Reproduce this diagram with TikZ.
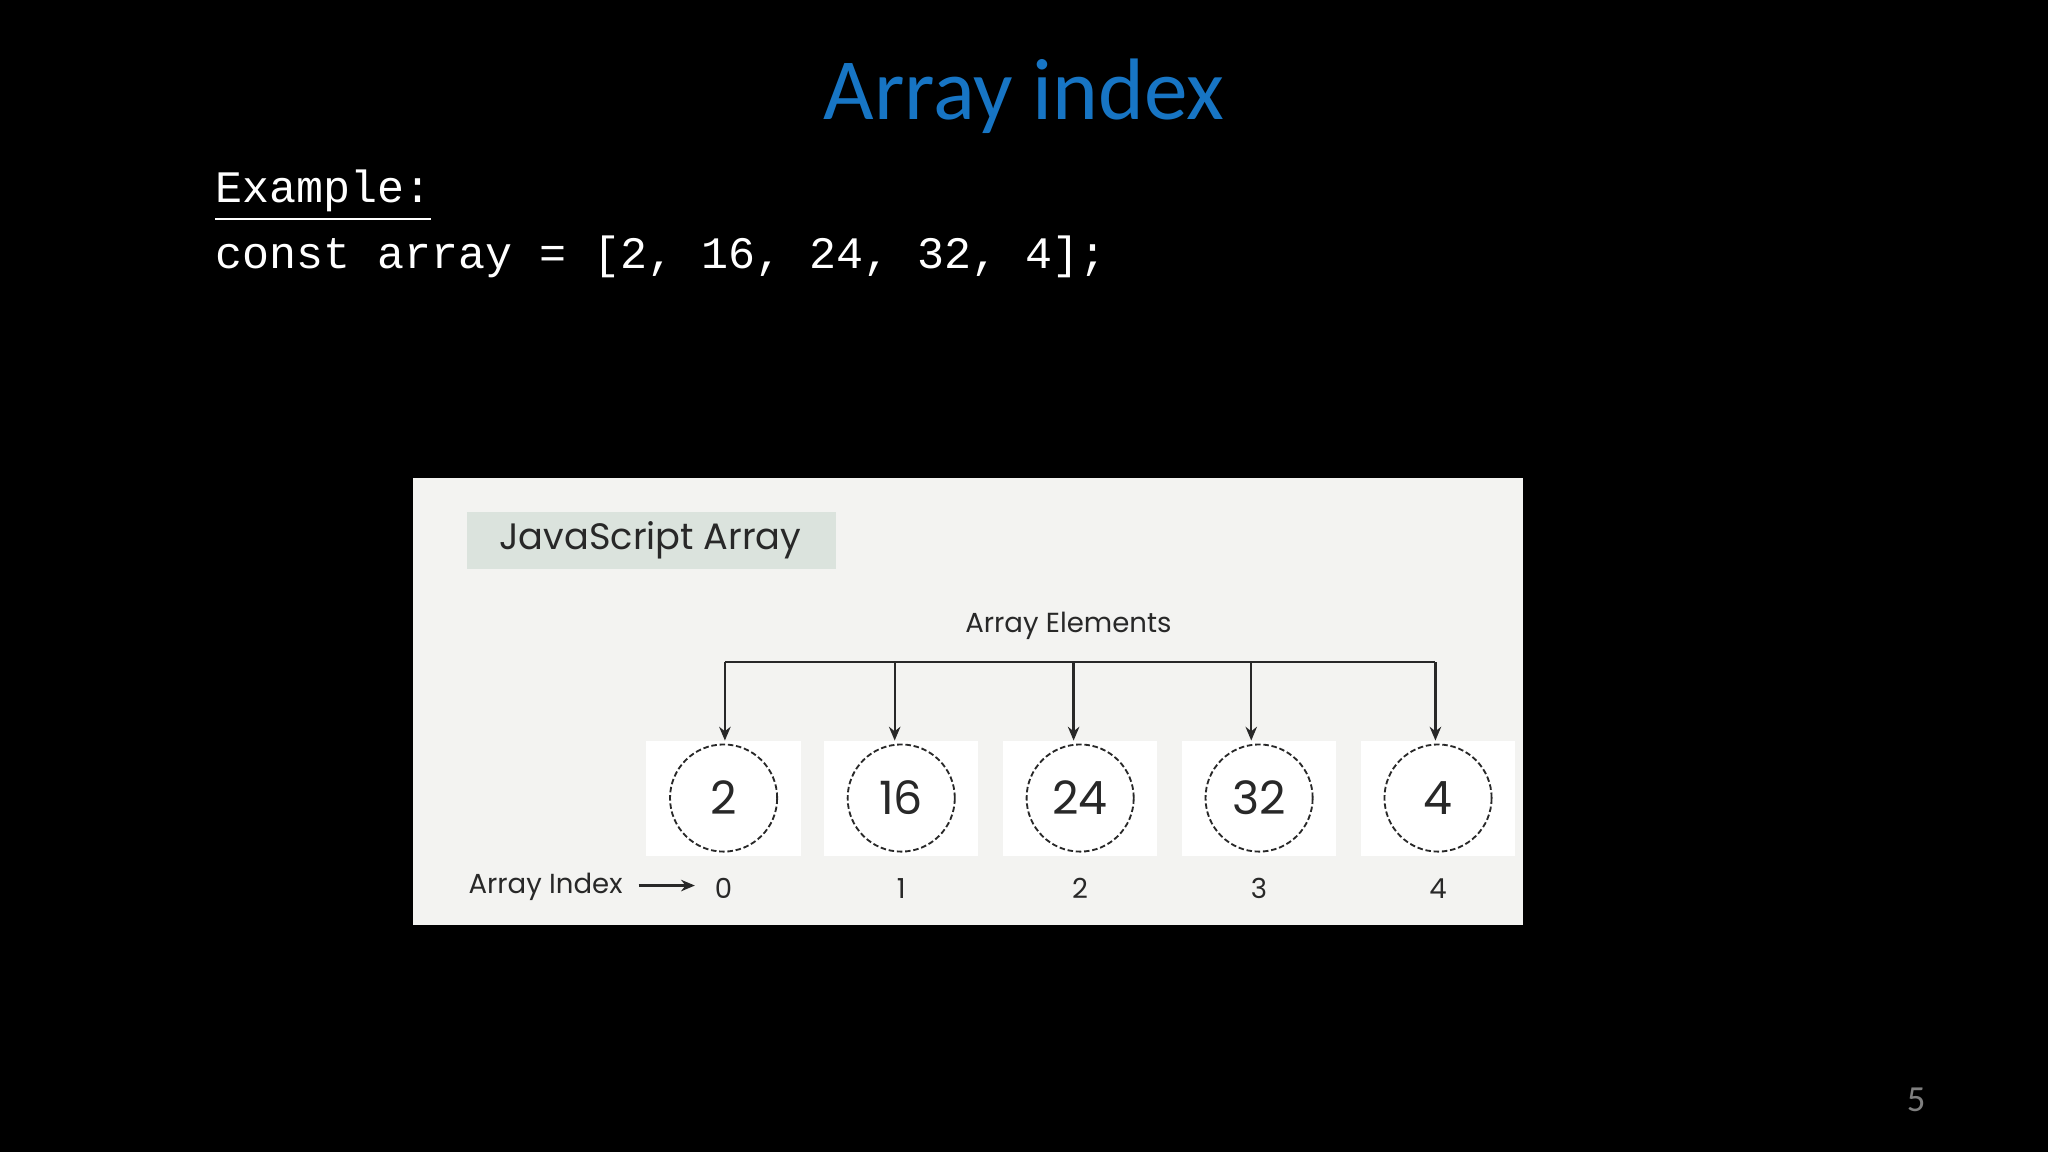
\documentclass[tikz,border=0pt]{standalone}
\usepackage{fontspec}
\setmainfont{Carlito}
\newfontfamily\popf{Poppins}
\newfontfamily\codef{Liberation Mono}
\usetikzlibrary{arrows.meta}
\definecolor{titleblue}{RGB}{23,117,196}
\definecolor{panel}{RGB}{243,243,241}
\definecolor{tagbg}{RGB}{219,227,221}
\definecolor{ink}{RGB}{40,40,40}
\tikzset{
 code/.style={text=white,anchor=west,inner sep=0pt,font=\codef\fontsize{9.8pt}{12pt}\selectfont},
 circ/.style={circle,draw=ink,dashed,dash pattern=on 1.2pt off 0.6pt,minimum size=0.82cm,inner sep=0pt,font=\popf\fontsize{10pt}{12pt}\selectfont,text=ink},
 cell/.style={fill=white,minimum width=1.18cm,minimum height=0.88cm,inner sep=0pt},
 idx/.style={font=\popf\fontsize{6pt}{7pt}\selectfont,text=ink,inner sep=0pt},
 arr/.style={draw=ink,line width=0.5pt,-{Stealth[length=3pt,width=2.5pt]}}
}
\begin{document}
\begin{tikzpicture}[x=0.01cm,y=-0.01cm]
\fill[black] (0,0) rectangle (1568,882);
\useasboundingbox (0,0) rectangle (1568,882);
\node[text=titleblue,font=\fontsize{19pt}{22pt}\selectfont] (title) at (784,74) {Array index};
\node[code] (ex) at (164,150) {\underline{Example:}};
\node[code] (cd) at (164,197) {const array = [2, 16, 24, 32, 4];};
\fill[panel] (316,366) rectangle (1166,708);
\node[fill=tagbg,minimum width=2.82cm,minimum height=0.44cm,inner sep=0pt] (tag) at (499,414) {};
\node[font=\popf\fontsize{8pt}{10pt}\selectfont,text=ink] (tagt) at (498,414) {JavaScript Array};
\node[idx] (ae) at (818,479) {Array Elements};
\coordinate (bl) at (555,507);
\coordinate (br) at (1099,507);
\draw[ink,line width=0.5pt] (bl) -- (br);
\foreach \i/\x/\v/\bx in {0/554/2/555,1/690/16/685,2/827/24/822,3/964/32/958,4/1101/4/1099}{
 \node[cell] (c\i) at (\x,611) {};
 \node[circ] (n\i) at (\x,611) {\v};
 \coordinate (t\i) at (\bx,507);
 \coordinate (h\i) at (\bx,567);
 \draw[arr] (t\i) -- (h\i);
 \node[idx] (i\i) at (\x,680) {\i};
}
\node[idx,anchor=west] (ai) at (358,679) {Array Index};
\coordinate (aa) at (489,678);
\coordinate (ab) at (532,678);
\draw[arr] (aa) -- (ab);
\node[text=gray,font=\fontsize{8pt}{10pt}\selectfont] (pg) at (1467,842) {5};
\end{tikzpicture}
\end{document}
